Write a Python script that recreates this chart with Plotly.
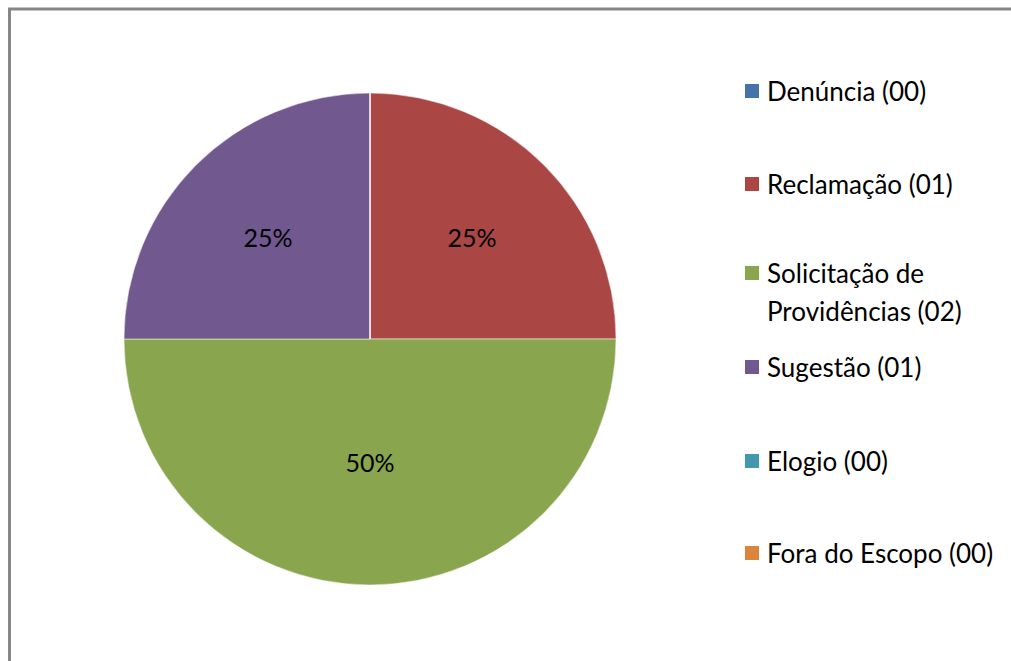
import plotly.graph_objects as go

W, H = 1011, 661

labels = ["Denúncia", "Reclamação", "Solicitação de Providências", "Sugestão", "Elogio", "Fora do Escopo"]
values = [0, 1, 2, 1, 0, 0]
legend_lines = [["Denúncia (00)"], ["Reclamação (01)"], ["Solicitação de", "Providências (02)"],
                ["Sugestão (01)"], ["Elogio (00)"], ["Fora do Escopo (00)"]]
colors = ["#4572A7", "#AA4643", "#89A54E", "#71588F", "#4198AF", "#DB843D"]

FONT = "Lato"
FS = 26

def px(x):
    return x / W

def py(y):
    return 1 - y / H

cx, cy, R = 370, 339, 246

fig = go.Figure(go.Pie(
    labels=labels,
    values=values,
    sort=False,
    direction="clockwise",
    rotation=0,
    marker=dict(colors=colors, line=dict(color="rgba(255,255,255,0.5)", width=1)),
    texttemplate="%{percent:.0%}",
    textposition="inside",
    insidetextorientation="horizontal",
    textfont=dict(family=FONT, size=FS - 1, color="#000000"),
    showlegend=False,
    hoverinfo="label+value+percent",
    domain=dict(x=[px(cx - R), px(cx + R)], y=[py(cy + R), py(cy - R)]),
))

# legend drawn as annotations + squares
legend_y = [91, 184, 273, 367, 461, 553]
LINE_GAP = 38
shapes = [dict(type="rect", xref="paper", yref="paper",
               x0=px(9.5), x1=px(1040), y0=py(9), y1=py(700),
               line=dict(color="#878787", width=3), fillcolor="rgba(0,0,0,0)")]
annotations = []
for lines, c, y in zip(legend_lines, colors, legend_y):
    shapes.append(dict(type="rect", xref="paper", yref="paper",
                       x0=px(745), x1=px(759), y0=py(y + 7), y1=py(y - 7),
                       line=dict(width=0), fillcolor=c))
    for i, t in enumerate(lines):
        annotations.append(dict(xref="paper", yref="paper", x=px(765), y=py(y + i * LINE_GAP),
                                xanchor="left", yanchor="middle", align="left",
                                text=t, showarrow=False,
                                font=dict(family=FONT, size=FS, color="#000000")))

fig.update_layout(
    width=W, height=H,
    margin=dict(l=0, r=0, t=0, b=0),
    paper_bgcolor="white",
    plot_bgcolor="white",
    shapes=shapes,
    annotations=annotations,
)

fig.write_html("out.html",
               config={"displayModeBar": False},
               post_script="document.body.style.margin='0';document.body.style.overflow='hidden';")
